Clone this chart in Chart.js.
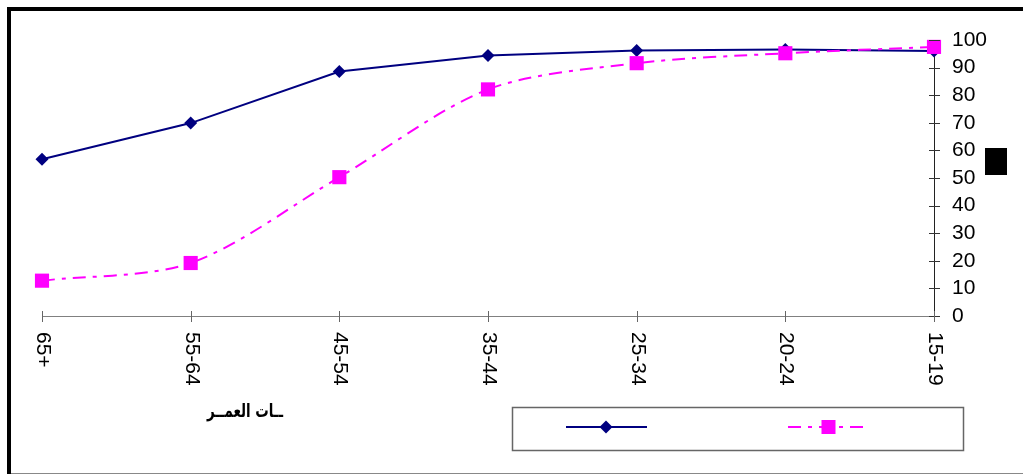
<!DOCTYPE html>
<html>
<head>
<meta charset="utf-8">
<script src="https://cdn.jsdelivr.net/npm/chart.js@4/dist/chart.umd.min.js"></script>
<style>
  html, body { margin: 0; padding: 0; background: #fff; overflow: hidden; }
  #wrap { width: 1023px; height: 476px; position: relative; }
</style>
</head>
<body>
<div id="wrap"><canvas id="c" width="1023" height="476"></canvas></div>
<script>
// Age groups, oldest on the left
const ageGroups = ['65+', '55-64', '45-54', '35-44', '25-34', '20-24', '15-19'];
// Percentages per age group
const seriesNavy = [56.8, 69.9, 88.6, 94.4, 96.2, 96.6, 96.0];
const seriesPink = [12.8, 19.2, 50.3, 82.1, 91.6, 95.2, 97.5];
// Value axis ticks
const yTickValues = [0, 10, 20, 30, 40, 50, 60, 70, 80, 90, 100];
const axisTitle = 'ــات العمــر';

const NAVY = '#000080';
const PINK = '#FF00FF';
const FONT = '"Liberation Sans", Arial, sans-serif';
const PINK_DASH = [13, 7, 4, 7];

const extras = {
  id: 'extras',
  afterDraw(chart) {
    const ctx = chart.ctx;
    const xs = chart.scales.x;
    const ys = chart.scales.y;
    const area = chart.chartArea;
    ctx.save();

    // outer frame
    ctx.fillStyle = '#000';
    ctx.fillRect(7, 7, 1016, 4);
    ctx.fillRect(7, 7, 4, 467);
    ctx.fillStyle = '#888';
    ctx.fillRect(11, 473, 1012, 1);

    // value axis tick marks crossing the axis
    ctx.strokeStyle = '#333';
    ctx.lineWidth = 1;
    yTickValues.forEach(v => {
      const py = Math.round(ys.getPixelForValue(v)) + 0.5;
      ctx.beginPath();
      ctx.moveTo(area.right - 5, py);
      ctx.lineTo(area.right + 6, py);
      ctx.stroke();
    });

    // category tick marks and rotated labels
    ctx.strokeStyle = '#666';
    ctx.fillStyle = '#000';
    ctx.font = '21px ' + FONT;
    ageGroups.forEach((g, i) => {
      const px = Math.round(xs.getPixelForValue(i)) + 0.5;
      ctx.beginPath();
      ctx.moveTo(px, area.bottom - 5);
      ctx.lineTo(px, area.bottom + 6);
      ctx.stroke();
      ctx.save();
      ctx.translate(px, area.bottom + 16);
      ctx.rotate(Math.PI / 2);
      ctx.textAlign = 'left';
      ctx.textBaseline = 'middle';
      ctx.fillText(g, 0, 0);
      ctx.restore();
    });

    // category axis title, fitted to its slot width
    ctx.save();
    ctx.font = 'bold 19px "DejaVu Sans", sans-serif';
    ctx.direction = 'rtl';
    ctx.textAlign = 'center';
    ctx.textBaseline = 'middle';
    const w = ctx.measureText(axisTitle).width;
    const slot = 76;
    ctx.translate(245, 412);
    if (w > slot) ctx.scale(slot / w, 1);
    ctx.fillText(axisTitle, 0, 0);
    ctx.restore();

    // value axis title block
    ctx.fillStyle = '#000';
    ctx.fillRect(985, 148, 22, 27);

    // legend box
    ctx.strokeStyle = '#666';
    ctx.lineWidth = 1.5;
    ctx.strokeRect(512.5, 407.5, 451, 43);

    // legend: navy series
    ctx.strokeStyle = NAVY;
    ctx.lineWidth = 2;
    ctx.beginPath();
    ctx.moveTo(566, 427);
    ctx.lineTo(647, 427);
    ctx.stroke();
    ctx.fillStyle = NAVY;
    ctx.beginPath();
    ctx.moveTo(606, 420.5);
    ctx.lineTo(612.5, 427);
    ctx.lineTo(606, 433.5);
    ctx.lineTo(599.5, 427);
    ctx.closePath();
    ctx.fill();

    // legend: pink series
    ctx.strokeStyle = PINK;
    ctx.setLineDash(PINK_DASH);
    ctx.beginPath();
    ctx.moveTo(788, 427);
    ctx.lineTo(869, 427);
    ctx.stroke();
    ctx.setLineDash([]);
    ctx.fillStyle = PINK;
    ctx.fillRect(821.5, 420, 14, 14);

    ctx.restore();
  }
};

new Chart(document.getElementById('c'), {
  type: 'line',
  data: {
    labels: ageGroups,
    datasets: [
      {
        data: seriesNavy,
        order: 1,
        borderColor: NAVY,
        backgroundColor: NAVY,
        borderWidth: 2,
        tension: 0,
        pointStyle: 'rectRot',
        pointRadius: 6.5,
        pointBorderWidth: 0,
        pointBackgroundColor: NAVY,
        clip: false
      },
      {
        data: seriesPink,
        order: 0,
        borderColor: PINK,
        backgroundColor: PINK,
        borderWidth: 2,
        borderDash: PINK_DASH,
        tension: 0.3,
        pointStyle: 'rect',
        pointRadius: 10,
        pointBorderWidth: 0,
        pointBackgroundColor: PINK,
        clip: false
      }
    ]
  },
  options: {
    responsive: false,
    animation: false,
    devicePixelRatio: 1,
    layout: { padding: { top: 40, left: 42, right: 0, bottom: 0 } },
    plugins: { legend: { display: false }, tooltip: { enabled: false } },
    scales: {
      x: {
        offset: false,
        grid: { display: false, drawTicks: false },
        border: { display: true, color: '#808080', width: 1 },
        ticks: { display: false },
        afterFit(s) { s.height = 160; }
      },
      y: {
        position: 'right',
        min: 0,
        max: 100,
        grid: { display: false, drawTicks: false },
        border: { display: true, color: '#222', width: 1 },
        ticks: {
          stepSize: 10,
          autoSkip: false,
          padding: 18,
          color: '#000',
          font: { family: FONT, size: 21 }
        },
        afterBuildTicks(s) { s.ticks = yTickValues.map(v => ({ value: v })); },
        afterFit(s) { s.width = 89; }
      }
    }
  },
  plugins: [extras]
});
</script>
</body>
</html>
